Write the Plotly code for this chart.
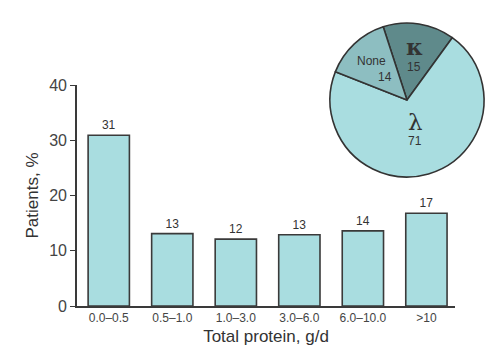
import plotly.graph_objects as go

categories = ["0.0–0.5", "0.5–1.0", "1.0–3.0", "3.0–6.0", "6.0–10.0", ">10"]
patients_pct = [30.9, 13.1, 12.1, 12.9, 13.6, 16.8]
bar_labels = ["31", "13", "12", "13", "14", "17"]

pie_labels = ["κ", "λ", "None"]
pie_values = [15, 71, 14]
pie_colors = ["#5f8a8b", "#a9dde0", "#8dbec1"]

# page body has an 8px margin; size the figure to fit in the window
OFF = 8
W, H = 500 - OFF, 356 - OFF
def px(x):
    return (x - OFF) / W
def py(y):
    return 1 - (y - OFF) / H

FONT = "Liberation Sans, Arial, Helvetica, sans-serif"
INK = "#333333"

fig = go.Figure()
fig.add_trace(go.Bar(
    x=categories, y=patients_pct,
    text=bar_labels, textposition="outside",
    textfont=dict(size=12, color=INK, family=FONT),
    cliponaxis=False,
    marker=dict(color="#a9dde0", line=dict(color="#3a3a3a", width=1.6)),
    width=0.65, showlegend=False,
))

fig.add_trace(go.Pie(
    labels=pie_labels, values=pie_values, sort=False,
    direction="clockwise", rotation=-18,
    marker=dict(colors=pie_colors, line=dict(color="#333333", width=1.6)),
    textinfo="none", hoverinfo="label+value", showlegend=False,
    domain=dict(x=[px(330), px(484)], y=[py(177), py(23)]),
))

fig.update_layout(
    template="none",
    width=W, height=H,
    margin=dict(l=0, r=0, t=0, b=0, autoexpand=False),
    paper_bgcolor="white", plot_bgcolor="white",
    font=dict(family=FONT, color=INK),
    bargap=0.35,
    xaxis=dict(
        domain=[px(77), px(455)], range=[-0.5, 5.45], automargin=False,
        showline=True, linecolor="#3a3a3a", linewidth=1.6,
        ticks="", showgrid=False, zeroline=False,
        tickfont=dict(size=12, color="#444444"),
        title=dict(text="Total protein, g/d", font=dict(size=17, color=INK), standoff=6),
    ),
    yaxis=dict(
        domain=[py(306), py(85)], range=[0, 40], automargin=False,
        tickvals=[0, 10, 20, 30, 40],
        showline=True, linecolor="#3a3a3a", linewidth=1.6,
        ticks="outside", ticklen=5, tickcolor="#3a3a3a", tickwidth=1.4,
        showgrid=False, zeroline=False,
        tickfont=dict(size=16, color="#444444"),
        title=dict(text="Patients, %", font=dict(size=17, color=INK), standoff=6),
    ),
)

pie_text = [
    ("<b>" + pie_labels[0] + "</b>", 414, 47, 23, "DejaVu Serif, serif"),
    (str(pie_values[0]), 414, 67, 12, FONT),
    (pie_labels[2], 371, 61, 12, FONT),
    (str(pie_values[2]), 385, 77, 12, FONT),
    (pie_labels[1], 415, 122, 23, "DejaVu Serif, serif"),
    (str(pie_values[1]), 415, 141, 12, FONT),
]
for t, x, y, s, f in pie_text:
    fig.add_annotation(
        text=t, x=px(x), y=py(y), xref="paper", yref="paper",
        showarrow=False, xanchor="center", yanchor="middle",
        font=dict(size=s, family=f, color=INK),
    )

fig.write_html("out.html")
